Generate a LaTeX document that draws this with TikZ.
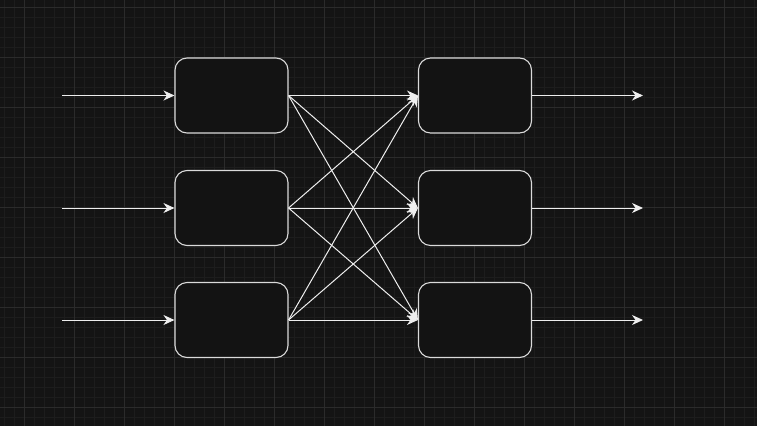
\documentclass[tikz,border=0pt]{standalone}
\usetikzlibrary{arrows.meta,positioning}
\definecolor{bgdark}{HTML}{141414}
\definecolor{gridminor}{HTML}{1D1D1D}
\definecolor{gridmajor}{HTML}{2B2B2B}
\definecolor{boxfill}{HTML}{131313}
\definecolor{boxline}{HTML}{DADADA}
\definecolor{wireline}{HTML}{EEEEEE}
\tikzset{
  cell/.style={draw=boxline, fill=boxfill, line width=1.1pt, rounded corners=12pt,
    minimum width=113pt, minimum height=75pt, inner sep=0pt},
  wire/.style={draw=wireline, line width=1pt,
    -{Stealth[length=11pt,width=10pt,inset=3.5pt]}}
}
\begin{document}
\begin{tikzpicture}[x=1pt,y=-1pt]

%% background and grid
\fill [bgdark] (0,0) rectangle (757,426);
\useasboundingbox (0,0) rectangle (757,426);
\foreach \x in {4,14,...,754} \draw [gridminor, line width=0.6pt] (\x,0) -- (\x,426);
\foreach \y in {7,17,...,424} \draw [gridminor, line width=0.6pt] (0,\y) -- (757,\y);
\foreach \x in {24,74,...,724} \draw [gridmajor, line width=0.8pt] (\x,0) -- (\x,426);
\foreach \y in {7,57,...,407} \draw [gridmajor, line width=0.8pt] (0,\y) -- (757,\y);

%% the two columns of boxes
\def\rows{95.5,208,320}
\foreach \yy [count=\ni] in \rows
{
  \node [cell] (in\ni) at (231.5,\yy) {};
  \node [cell] (out\ni) at (475,\yy) {};
  \coordinate (src\ni) at (62,\yy);
  \coordinate (dst\ni) at (643,\yy);
}

%% inputs and outputs
\foreach \ni in {1,2,3}
{
  \draw [wire] (src\ni) -- (in\ni.west);
  \draw [wire] (out\ni.east) -- (dst\ni);
}

%% full connection between the columns
\foreach \ni in {1,2,3}
  \foreach \nj in {1,2,3}
    \draw [wire] (in\ni.east) -- (out\nj.west);

\end{tikzpicture}
\end{document}
